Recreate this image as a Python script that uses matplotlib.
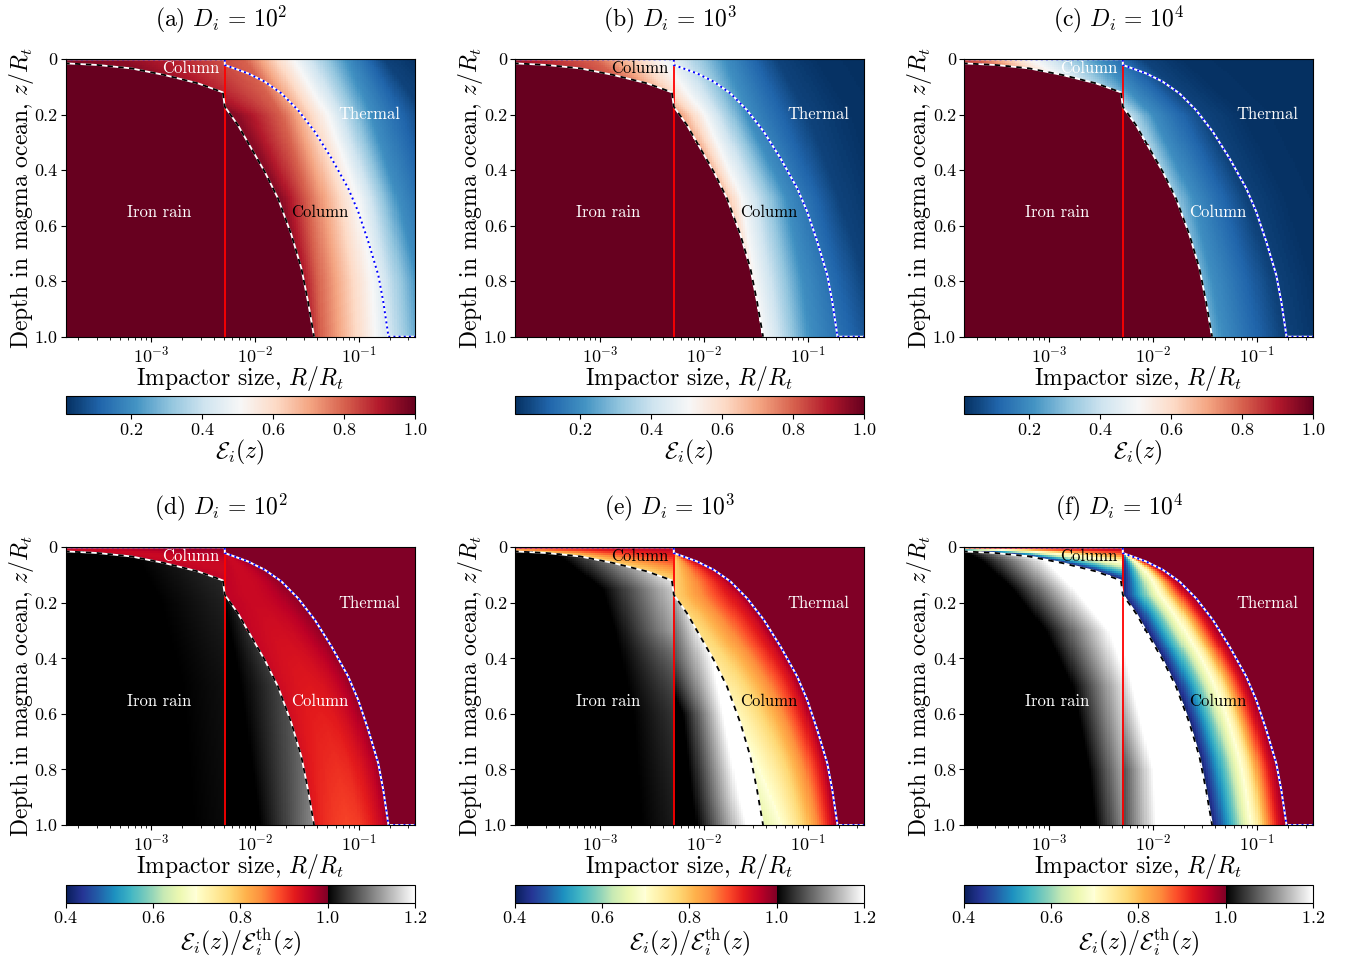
import numpy as np
import matplotlib
matplotlib.use("Agg")
import matplotlib.pyplot as plt
from matplotlib.colors import ListedColormap, Normalize
from matplotlib.cm import ScalarMappable

plt.rcParams['font.family'] = 'serif'
plt.rcParams['font.serif'] = ['cmr10']
plt.rcParams['mathtext.fontset'] = 'cm'
plt.rcParams['axes.formatter.use_mathtext'] = True

# ---- regime boundaries, log10(R/Rt) vs depth z/Rt ----
x_lim_log = [-3.824, -0.456]
logr_column = -2.289                     # vertical red line
dash_logr = [-3.83, -3.516, -3.194, -2.871, -2.549, -2.308, -2.289, -2.163,
             -2.034, -1.905, -1.777, -1.647, -1.551, -1.487, -1.429]
dash_z = [0.0145, 0.0205, 0.0326, 0.0566, 0.0866, 0.119, 0.171, 0.237,
          0.321, 0.405, 0.501, 0.633, 0.754, 0.874, 1.0]
blue_logr = [-2.289, -2.067, -1.905, -1.744, -1.584, -1.422, -1.261, -1.10,
             -1.004, -0.907, -0.81, -0.762, -0.714]
blue_z = [0.0205, 0.0506, 0.0806, 0.1227, 0.183, 0.261, 0.357, 0.465,
          0.549, 0.657, 0.778, 0.874, 0.994]

# ---- top row: position (log10 R) of efficiency levels at a few depths ----
e_levels = [0.95, 0.8, 0.5, 0.2, 0.05, 0.02]
e_depths = [0.0, 0.2, 0.5, 0.8, 1.0]
e_pos_d2 = [[-3.30, -2.10, -1.62, -1.10, -0.75, -0.45],
            [-2.16, -1.74, -1.29, -0.875, -0.36, 0.2],
            [-1.74, -1.49, -1.00, -0.62, -0.13, 0.5],
            [-1.58, -1.39, -0.86, -0.42, 0.19, 0.8],
            [-1.52, -1.36, -0.83, -0.36, 0.35, 1.0]]
e_pos_d3 = [[-4.00, -3.07, -2.39, -1.78, -1.30, -0.9],
            [-2.60, -2.32, -1.985, -1.58, -1.00, -0.55],
            [-2.20, -1.90, -1.63, -1.20, -0.70, -0.3],
            [-2.00, -1.71, -1.50, -1.04, -0.45, -0.05],
            [-1.90, -1.62, -1.42, -0.97, -0.30, 0.1]]
e_pos_d4 = [[-4.20, -3.70, -3.16, -2.51, -2.10, -1.7],
            [-2.90, -2.60, -2.35, -2.00, -1.50, -1.1],
            [-2.60, -2.30, -2.03, -1.61, -1.10, -0.7],
            [-2.40, -2.10, -1.84, -1.42, -0.85, -0.45],
            [-2.30, -2.05, -1.78, -1.33, -0.75, -0.35]]

# ---- bottom row: ratio across the column (s=0 dashed line, s=1 blue line) ----
col_s = [0.0, 0.15, 0.3, 0.45, 0.6, 0.75, 0.9, 1.0]
col_depths = [0.2, 1.0]
col_d2 = [[0.96, 0.955, 0.95, 0.95, 0.955, 0.965, 0.98, 0.99],
          [0.93, 0.91, 0.90, 0.895, 0.90, 0.92, 0.95, 0.98]]
col_d3 = [[0.78, 0.80, 0.83, 0.86, 0.89, 0.92, 0.95, 0.985],
          [0.65, 0.68, 0.71, 0.75, 0.80, 0.86, 0.93, 0.985]]
col_d4 = [[0.41, 0.49, 0.57, 0.66, 0.73, 0.85, 0.94, 0.985],
          [0.41, 0.49, 0.57, 0.66, 0.73, 0.85, 0.94, 0.985]]

# ---- bottom row, iron rain: log10 R where ratio is 1.0 and 1.2 ----
gray_left_d2 = ([0.0, 0.2, 0.5, 1.0], [-3.2, -2.9, -2.7, -2.6], [1.0, 2.0, 4.0, 5.0])
gray_right_d2 = ([0.17, 0.2, 0.5, 1.0], [-2.3, -2.29, -2.13, -1.95], [-1.5, -1.45, -0.71, -1.0])
gray_left_d3 = ([0.0, 0.15, 0.3, 0.6, 1.0], [-3.5, -2.975, -2.85, -2.68, -2.6],
                [-2.6, -2.13, -1.97, -0.78, 0.4])
gray_right_d3 = ([0.17, 0.2, 0.4, 0.6, 0.9, 1.0], [-2.55, -2.5, -2.45, -2.2, -2.11, -2.07],
                 [-2.25, -2.14, -1.92, -1.81, -1.66, -1.59])
gray_left_d4 = ([0.0, 0.05, 0.15, 0.3, 0.5, 0.8, 1.0],
                [-3.9, -3.64, -3.35, -3.03, -2.775, -2.61, -2.55],
                [-3.4, -3.03, -2.76, -2.42, -2.23, -2.13, -2.08])
gray_right_d4 = ([0.17, 0.2, 0.5, 0.8, 1.0], [-2.9, -2.87, -2.65, -2.41, -2.41],
                 [-2.45, -2.39, -2.195, -2.0, -1.97])

titles_top = [r'(a) $D_i\,=\,10^2$', r'(b) $D_i\,=\,10^3$', r'(c) $D_i\,=\,10^4$']
titles_bot = [r'(d) $D_i\,=\,10^2$', r'(e) $D_i\,=\,10^3$', r'(f) $D_i\,=\,10^4$']
col_top_colors = [['white', 'black', 'white'], ['white', 'black', 'black']]
col_low_colors = [['black', 'black', 'white'], ['white', 'black', 'black']]

# grid
nx, nz = 170, 140
lr_edges = np.linspace(x_lim_log[0], x_lim_log[1], nx + 1)
z_edges = np.linspace(0, 1, nz + 1)
lr_c = 0.5 * (lr_edges[1:] + lr_edges[:-1])
z_c = 0.5 * (z_edges[1:] + z_edges[:-1])
LR, Z = np.meshgrid(lr_c, z_c)

dash_at_z = np.interp(Z, dash_z, dash_logr, left=-10)
blue_at_z = np.interp(Z, blue_z, blue_logr)
iron = LR < dash_at_z
thermal = (LR > blue_at_z) & ~iron
column = ~iron & ~thermal
left_edge = np.maximum(dash_at_z, logr_column)
s_right = (LR - left_edge) / np.maximum(blue_at_z - left_edge, 1e-6)
zd = np.interp(LR, dash_logr[:6], dash_z[:6])
s_left = 1 - Z / zd
s = np.clip(np.where(LR >= logr_column, s_right, s_left), 0, 1)


def top_field(table):
    table = np.array(table)
    E = np.zeros_like(LR)
    for j, z in enumerate(z_c):
        pos = [np.interp(z, e_depths, table[:, k]) for k in range(len(e_levels))]
        E[j] = np.interp(lr_c, [-6] + pos + [3], [1.0] + e_levels + [0.0])
    E[iron] = 1.0
    return E


def gray_part(tab):
    d, p1, p12 = tab
    a = np.interp(Z, d, p1)
    b = np.interp(Z, d, p12)
    return 1.0 + 0.2 * np.clip((LR - a) / (b - a), 0, 1)


def bottom_field(col_tab, gl, gr):
    w = np.clip((Z - col_depths[0]) / (col_depths[1] - col_depths[0]), 0, 1)
    c = (1 - w) * np.interp(s, col_s, col_tab[0]) + w * np.interp(s, col_s, col_tab[1])
    g = np.where(LR < logr_column, gray_part(gl), gray_part(gr))
    return np.where(iron, g, np.where(column, c, 0.9995))


top_tables = [e_pos_d2, e_pos_d3, e_pos_d4]
bot_tables = [(col_d2, gray_left_d2, gray_right_d2),
              (col_d3, gray_left_d3, gray_right_d3),
              (col_d4, gray_left_d4, gray_right_d4)]

# colormaps
cmap_top = plt.get_cmap('RdBu_r')
norm_top = Normalize(0.015, 1.0)
cols = np.vstack([plt.get_cmap('YlGnBu_r')(np.linspace(0, 1, 384)),
                  plt.get_cmap('YlOrRd')(np.linspace(0, 1, 384)),
                  plt.get_cmap('gray')(np.linspace(0, 1, 256))])
cmap_bot = ListedColormap(cols)
norm_bot = Normalize(0.4, 1.2)

fig = plt.figure(figsize=(13.59, 9.67), dpi=100)
lefts = [0.0482, 0.3786, 0.7090]
W = 0.2572
rows = [(0.6518, 0.2869, 0.5716, 0.0189), (0.1468, 0.2872, 0.0665, 0.0183)]

xs_edge = 10 ** lr_edges
dash_x = 10 ** np.array([x_lim_log[0]] + dash_logr)
dash_y = [dash_z[0]] + dash_z
blue_x = 10 ** np.array([x_lim_log[0], logr_column] + blue_logr + [blue_logr[-1], x_lim_log[1]])
blue_y = [0, 0] + blue_z + [1.0, 1.0]

for r, (bot, h, cb_bot, cb_h) in enumerate(rows):
    for i in range(3):
        ax = fig.add_axes([lefts[i], bot, W, h])
        if r == 0:
            field = top_field(top_tables[i])
            ax.pcolormesh(xs_edge, z_edges, field, cmap=cmap_top, norm=norm_top, shading='flat')
            title = titles_top[i]
        else:
            field = bottom_field(*bot_tables[i])
            ax.pcolormesh(xs_edge, z_edges, field, cmap=cmap_bot, norm=norm_bot, shading='flat')
            title = titles_bot[i]
        ax.set_xscale('log')
        ax.set_xlim(10 ** x_lim_log[0], 10 ** x_lim_log[1])
        ax.set_ylim(1, 0)
        ax.axvline(10 ** logr_column, color='red', lw=1.3)
        ax.plot(dash_x, dash_y, color='white', lw=1.3)
        ax.plot(dash_x, dash_y, color='black', lw=1.3, ls=(0, (3, 3)))
        ax.plot(blue_x, blue_y, color='white', lw=1.4)
        ax.plot(blue_x, blue_y, color='blue', lw=1.4, ls=':')
        ax.set_yticks([0, 0.2, 0.4, 0.6, 0.8, 1.0])
        ax.set_yticklabels(['0', '0.2', '0.4', '0.6', '0.8', '1.0'])
        ax.tick_params(labelsize=13, pad=2)
        ax.set_xlabel('Impactor size, $R/R_t$', fontsize=17, labelpad=-1)
        ax.set_ylabel('Depth in magma ocean, $z/R_t$', fontsize=17, labelpad=-1)
        ax.set_title(title, fontsize=17, pad=24, x=0.445)
        ax.text(1.2e-3, 0.553, 'Iron rain', color='white', fontsize=12, ha='center', va='center')
        ax.text(0.042, 0.553, 'Column', color=col_low_colors[r][i], fontsize=12,
                ha='center', va='center')
        ax.text(0.128, 0.2, 'Thermal', color='white', fontsize=12, ha='center', va='center')
        ax.text(2.44e-3, 0.034, 'Column', color=col_top_colors[r][i], fontsize=12,
                ha='center', va='center')

        cax = fig.add_axes([lefts[i], cb_bot, W, cb_h])
        if r == 0:
            cb = fig.colorbar(ScalarMappable(norm=norm_top, cmap=cmap_top), cax=cax,
                              orientation='horizontal')
            cb.set_ticks([0.2, 0.4, 0.6, 0.8, 1.0])
            cb.set_label(r'$\mathcal{E}_i(z)$', fontsize=17, labelpad=0)
        else:
            cb = fig.colorbar(ScalarMappable(norm=norm_bot, cmap=cmap_bot), cax=cax,
                              orientation='horizontal')
            cb.set_ticks([0.4, 0.6, 0.8, 1.0, 1.2])
            cb.set_label(r'$\mathcal{E}_i(z)/\mathcal{E}_i^{\rm th}(z)$', fontsize=17, labelpad=0)
        cb.ax.tick_params(labelsize=13, pad=2)

fig.savefig('out.png', dpi=100)
